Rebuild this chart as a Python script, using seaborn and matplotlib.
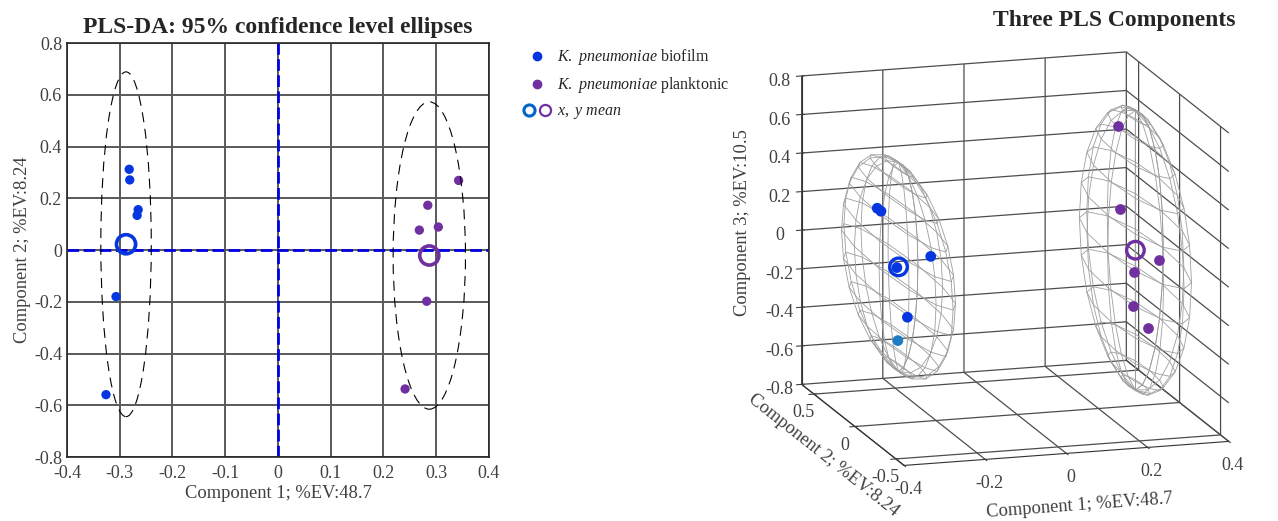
import numpy as np
import pandas as pd
import seaborn as sns
import matplotlib.pyplot as plt
from matplotlib.lines import Line2D
from matplotlib.patches import Ellipse
from matplotlib.legend_handler import HandlerTuple
from matplotlib.ticker import FuncFormatter

# PLS scores (component 1, 2, 3)
bio_c1 = [-0.282, -0.281, -0.265, -0.267, -0.307, -0.326]
bio_c2 = [0.312, 0.271, 0.156, 0.134, -0.180, -0.559]
bio_c3 = [0.209, 0.207, -0.049, -0.420, -0.187, 0.259]

plk_c1 = [0.3425, 0.284, 0.268, 0.304, 0.282, 0.241]
plk_c2 = [0.269, 0.173, 0.077, 0.089, -0.198, -0.537]
plk_c3 = [-0.205, 0.593, 0.197, -0.313, -0.328, 0.145]

groups = ['biofilm', 'planktonic']
ev = [48.7, 8.24, 10.5]  # % explained variance per component

blue = '#0536e0'
purple = '#7030a0'
light_blue = '#1c7cc4'
bio_colors = [blue, blue, blue, light_blue, blue, blue]

sns.set_style('white')
plt.rcParams['font.family'] = ['Liberation Serif', 'DejaVu Serif']
plt.rcParams['mathtext.fontset'] = 'custom'
plt.rcParams['mathtext.rm'] = 'Liberation Serif'
plt.rcParams['mathtext.it'] = 'Liberation Serif:italic'
plt.rcParams['grid.color'] = '0.3'
plt.rcParams['grid.linewidth'] = 0.9
plt.rcParams['grid.linestyle'] = '-'

df = pd.DataFrame({
    'c1': bio_c1 + plk_c1,
    'c2': bio_c2 + plk_c2,
    'c3': bio_c3 + plk_c3,
    'group': [groups[0]] * len(bio_c1) + [groups[1]] * len(plk_c1),
})
stats = df.groupby('group', sort=False)[['c1', 'c2', 'c3']].agg(['mean', 'std'])

fmt = FuncFormatter(lambda v, p: '%g' % (round(v, 2) + 0.0))
fig = plt.figure(figsize=(12.78, 5.21), dpi=100)

# ---------------- 2D scores plot ----------------
ax = fig.add_axes([0.0524, 0.1228, 0.3302, 0.7946])
ax.set_xlim(-0.4, 0.4)
ax.set_ylim(-0.8, 0.8)
ax.axvline(0, color='#0000e0', lw=2, ls=(0, (4.2, 1.6)), zorder=2)
ax.axhline(0, color='#0000e0', lw=2, ls=(0, (4.2, 1.6)), zorder=2)
sns.scatterplot(data=df, x='c1', y='c2', hue='group', palette=[blue, purple],
                s=45, edgecolor='none', legend=False, ax=ax, zorder=3)

for g, col in zip(groups, [blue, purple]):
    mx, my = stats.loc[g, ('c1', 'mean')], stats.loc[g, ('c2', 'mean')]
    sx, sy = stats.loc[g, ('c1', 'std')], stats.loc[g, ('c2', 'std')]
    ax.scatter(mx, my, s=190, facecolors='none', edgecolors=col, linewidths=2.6, zorder=4)
    # ~95% ellipse: +-2 std around the group mean
    ax.add_patch(Ellipse((mx, my), 4 * sx, 4 * sy, fill=False, ec='k',
                         lw=0.8, ls=(0, (9, 6)), zorder=3))

ax.set_xticks(np.round(np.arange(-0.4, 0.41, 0.1), 1))
ax.set_yticks(np.round(np.arange(-0.8, 0.81, 0.2), 1))
ax.xaxis.set_major_formatter(fmt)
ax.yaxis.set_major_formatter(fmt)
ax.grid(True, color='0.35', lw=1.4)
ax.set_axisbelow(True)
ax.tick_params(labelsize=13, colors='0.25', direction='in', length=0)
ax.tick_params(axis='x', pad=6)
for s in ax.spines.values():
    s.set_color('0.15')
    s.set_linewidth(1.2)
ax.set_xlabel('Component 1; %%EV:%s' % ev[0], fontsize=13.3, color='0.25', labelpad=2)
ax.set_ylabel('Component 2; %%EV:%s' % ev[1], fontsize=13.3, color='0.25', labelpad=2)
ax.set_title('PLS-DA: 95% confidence level ellipses', fontsize=17, fontweight='bold', pad=7)

# legend
h_bio = Line2D([], [], marker='o', ls='', color=blue, markersize=6)
h_plk = Line2D([], [], marker='o', ls='', color=purple, markersize=6)
h_m1 = Line2D([], [], marker='o', ls='', mfc='none', mec='#0064c8', mew=2.2, markersize=8)
h_m2 = Line2D([], [], marker='o', ls='', mfc='none', mec=purple, mew=1.6, markersize=8)
fig.legend([h_bio, h_plk, (h_m1, h_m2)],
           [r'$\mathit{K.}$ $\mathit{pneumoniae}$ biofilm',
            r'$\mathit{K.}$ $\mathit{pneumoniae}$ planktonic',
            r'$\mathit{x,}$ $\mathit{y}$ $\mathit{mean}$'],
           handler_map={tuple: HandlerTuple(ndivide=None, pad=0.3)},
           loc='upper left', bbox_to_anchor=(0.398, 0.937), frameon=False,
           fontsize=11.5, handlelength=1.7, handletextpad=0.45, labelspacing=0.5)

# ---------------- 3D scores plot ----------------
ax3 = fig.add_axes([0.585, -0.01, 0.4077, 1.0], projection='3d')
ax3.computed_zorder = False
ax3.set_proj_type('ortho')
ax3.view_init(elev=14, azim=-107)
ax3.set_box_aspect((345, 356, 323), zoom=1.085)

u = np.linspace(0, 2 * np.pi, 13)
v = np.linspace(0, np.pi, 13)
for g in groups:
    m = [stats.loc[g, (c, 'mean')] for c in ['c1', 'c2', 'c3']]
    r = [2 * stats.loc[g, (c, 'std')] for c in ['c1', 'c2', 'c3']]
    X = m[0] + r[0] * np.outer(np.cos(u), np.sin(v))
    Y = m[1] + r[1] * np.outer(np.sin(u), np.sin(v))
    Z = m[2] + r[2] * np.outer(np.ones_like(u), np.cos(v))
    ax3.plot_wireframe(X, Y, Z, color='0.62', linewidth=0.6, zorder=1)

ax3.scatter(bio_c1, bio_c2, bio_c3, c=bio_colors, s=45, depthshade=False, zorder=3)
ax3.scatter(plk_c1, plk_c2, plk_c3, c=purple, s=45, depthshade=False, zorder=3)
for g, col in zip(groups, [blue, purple]):
    ax3.scatter(stats.loc[g, ('c1', 'mean')], stats.loc[g, ('c2', 'mean')],
                stats.loc[g, ('c3', 'mean')], s=160, facecolors='none',
                edgecolors=col, linewidths=2.4, depthshade=False, zorder=4)

ax3.set_xlim(-0.4, 0.4)
ax3.set_ylim(-0.6, 0.65)
ax3.set_zlim(-0.8, 0.8)
ax3.set_xticks([-0.4, -0.2, 0, 0.2, 0.4])
ax3.set_yticks([-0.5, 0, 0.5])
ax3.set_zticks(np.round(np.arange(-0.8, 0.81, 0.2), 1))
for a in (ax3.xaxis, ax3.yaxis, ax3.zaxis):
    a.set_major_formatter(fmt)
    a.set_pane_color((1, 1, 1, 0))
    a.pane.set_edgecolor('0.3')
    a.line.set_color('0.2')
ax3.tick_params(labelsize=13, colors='0.25')
ax3.xaxis.set_tick_params(pad=0)
ax3.yaxis.set_tick_params(pad=-2)
ax3.zaxis.set_tick_params(pad=2)
ax3.set_xlabel('Component 1; %%EV:%s' % ev[0], fontsize=13.3, color='0.25', labelpad=5)
ax3.set_ylabel('Component 2; %%EV:%s' % ev[1], fontsize=13.3, color='0.25', labelpad=-3)
ax3.set_zlabel('Component 3; %%EV:%s' % ev[2], fontsize=13.3, color='0.25', labelpad=6)
fig.text(0.872, 0.96, 'Three PLS Components', ha='center', va='center',
         fontsize=17, fontweight='bold')

fig.savefig('out.png', dpi=100)
